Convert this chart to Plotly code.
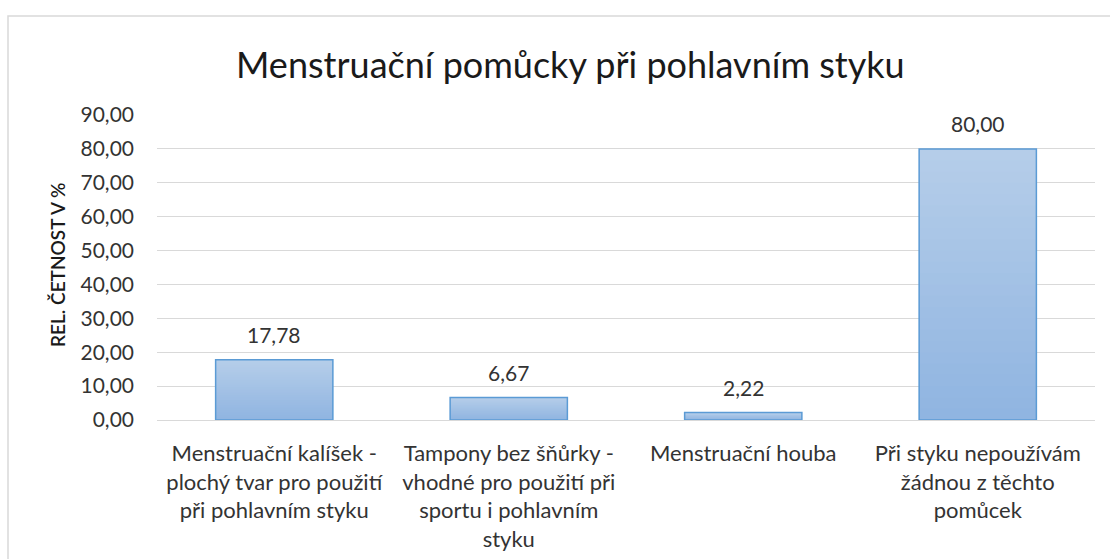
import plotly.graph_objects as go

categories = [
    "Menstruační kalíšek -<br>plochý tvar pro použití<br>při pohlavním styku",
    "Tampony bez šňůrky -<br>vhodné pro použití při<br>sportu i pohlavním<br>styku",
    "Menstruační houba",
    "Při styku nepoužívám<br>žádnou z těchto<br>pomůcek",
]
values = [17.78, 6.67, 2.22, 80.00]
tick_vals = [0, 10, 20, 30, 40, 50, 60, 70, 80, 90]
title_text = "Menstruační pomůcky při pohlavním styku"
yaxis_title = "REL. ČETNOST V %"

FONT = "Lato"
TXT = "#333333"

# gradient top -> bottom
top_rgb = (181, 205, 233)
bot_rgb = (144, 181, 225)
N = 24

fig = go.Figure()
for i in range(N):
    t = i / (N - 1)  # 0 bottom -> 1 top
    c = tuple(round(bot_rgb[k] + (top_rgb[k] - bot_rgb[k]) * t) for k in range(3))
    fig.add_trace(go.Bar(
        x=categories,
        y=[v * (N - i) / N for v in values],
        base=[v * i / N for v in values],
        marker=dict(color="rgb(%d,%d,%d)" % c, line=dict(width=0)),
        hoverinfo="skip",
        showlegend=False,
    ))

fig.add_trace(go.Bar(
    x=categories,
    y=values,
    marker=dict(color="rgba(0,0,0,0)", line=dict(color="#5b9bd5", width=1.5)),
    showlegend=False,
))

for c, v in zip(categories, values):
    fig.add_annotation(
        x=c, y=v, yshift=25, showarrow=False,
        text=f"{v:.2f}".replace(".", ","),
        font=dict(family=FONT, size=21, color=TXT),
    )

L, R, T, B = 157, 15, 115, 139
W, H = 1110, 559
pw, ph = W - L - R, H - T - B

fig.add_annotation(
    xref="paper", yref="paper", x=(57 - L) / pw, y=(H - B - 265) / ph,
    xanchor="center", yanchor="middle",
    text=yaxis_title, textangle=-90, showarrow=False,
    font=dict(family=FONT, size=19, color="#1a1a1a", weight=600),
)

fig.add_annotation(
    xref="paper", yref="paper", x=(570 - L) / pw, y=(H - B - 64) / ph,
    xanchor="center", yanchor="middle",
    text=title_text, showarrow=False,
    font=dict(family=FONT, size=36, color="#1a1a1a"),
)

fig.add_shape(
    type="rect", xref="paper", yref="paper",
    x0=(8 - L) / pw, x1=(W + 20 - L) / pw,
    y0=(H - B - (H + 20)) / ph, y1=(H - B - 16) / ph,
    line=dict(color="#d9d9d9", width=1.5), fillcolor="rgba(0,0,0,0)", layer="below",
)

fig.update_layout(
    width=W, height=H,
    margin=dict(l=L, r=R, t=T, b=B),
    paper_bgcolor="white", plot_bgcolor="white",
    barmode="overlay", bargap=0.5,
    separators=",.",
    font=dict(family=FONT, color=TXT),
)
fig.update_xaxes(
    showgrid=False, showline=False, ticks="", automargin=False,
    tickfont=dict(family=FONT, size=22, color=TXT),
    ticklabelstandoff=18,
)
fig.update_yaxes(
    range=[0, 90], tickvals=tick_vals, tickformat=".2f", automargin=False,
    showgrid=True, gridcolor="#d9d9d9", gridwidth=1.2,
    zeroline=True, zerolinecolor="#d9d9d9", zerolinewidth=1.2,
    showline=False, ticks="",
    tickfont=dict(family=FONT, size=21, color=TXT),
    ticklabelstandoff=22,
)

fig.write_html("out.html", config={"displayModeBar": False},
               post_script="document.body.style.margin='0';")
